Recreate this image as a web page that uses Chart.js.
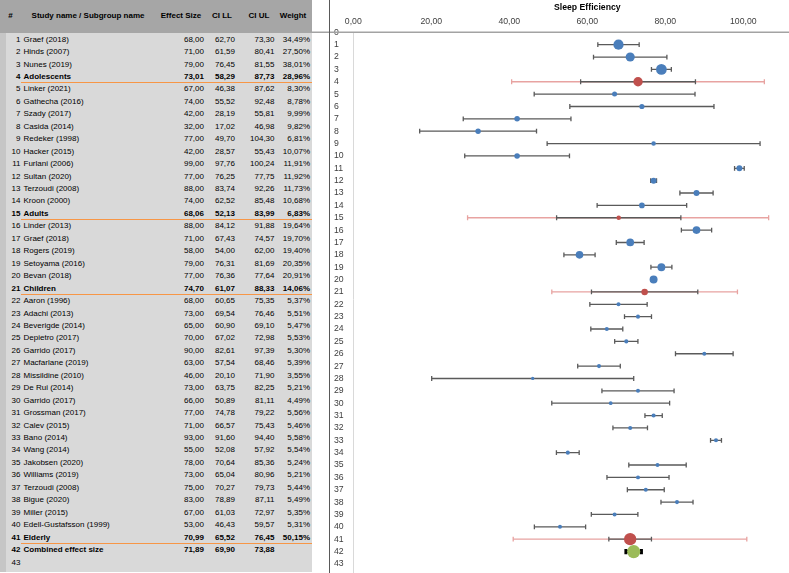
<!DOCTYPE html>
<html>
<head>
<meta charset="utf-8">
<script src="https://cdn.jsdelivr.net/npm/chart.js@4.4.1/dist/chart.umd.min.js"></script>
<style>
  html, body { margin: 0; padding: 0; width: 789px; height: 573px; overflow: hidden; background: #fff; }
  body { font-family: "Liberation Sans", Arial, sans-serif; color: #000; }
  #table { position: absolute; left: 0; top: 0; width: 312px; height: 572px; background: #d9d9d9; }
  #head { position: absolute; left: 0; top: 0; width: 312px; height: 33px; background: #a6a6a6; font-weight: bold; font-size: 8px; }
  #head span { position: absolute; top: 0; line-height: 31px; white-space: nowrap; transform: translateX(-50%); }
  .strip { position: absolute; left: 0; top: 33px; width: 6px; bottom: 0; background: #c6c6c6; }
  .row { position: absolute; left: 0; width: 312px; height: 12.45px; font-size: 8px; line-height: 12.45px; }
  .row span { position: absolute; top: 0; white-space: nowrap; }
  .row .num { left: 0; width: 20.5px; text-align: right; }
  .row .name { left: 23.5px; }
  .row .es { left: 160px; width: 44px; text-align: right; }
  .row .ll { left: 200px; width: 35px; text-align: right; }
  .row .ul { left: 236px; width: 38.5px; text-align: right; }
  .row .w { left: 268px; width: 42px; text-align: right; }
  .row.bold { font-weight: bold; }
  .sep { position: absolute; left: 20.5px; width: 291.5px; height: 1px; background: #f79646; }
  #divider { position: absolute; left: 328.5px; top: 0; width: 1px; height: 573px; background: #595959; z-index: 2; }
  #chartBox { position: absolute; left: 312px; top: 0; width: 518px; height: 573px; }
  #axisTail { position: absolute; left: 353px; top: 566px; width: 1px; height: 7px; background: #d9d9d9; }
</style>
</head>
<body>
<div id="table">
  <div id="head"></div>
  <div class="strip"></div>
  <div id="rows"></div>
</div>
<div id="divider"></div>
<div id="chartBox"><canvas id="forest" width="518" height="573"></canvas></div>
<div id="axisTail"></div>

<script>
const studyNames = ['Graef (2018)', 'Hinds (2007)', 'Nunes (2019)', 'Adolescents', 'Linker (2021)',
    'Gathecha (2016)', 'Szady (2017)', 'Casida (2014)', 'Redeker (1998)', 'Hacker (2015)',
    'Furlani (2006)', 'Sultan (2020)', 'Terzoudi (2008)', 'Kroon (2000)', 'Adults',
    'Linder (2013)', 'Graef (2018)', 'Rogers (2019)', 'Setoyama (2016)', 'Bevan (2018)', 'Children',
    'Aaron (1996)', 'Adachi (2013)', 'Beverigde (2014)', 'Depietro (2017)', 'Garrido (2017)',
    'Macfarlane (2019)', 'Missildine (2010)', 'De Rui (2014)', 'Garrido (2017)', 'Grossman (2017)',
    'Calev (2015)', 'Bano (2014)', 'Wang (2014)', 'Jakobsen (2020)', 'Williams (2019)',
    'Terzoudi (2008)', 'Bigue (2020)', 'Miller (2015)', 'Edell-Gustafsson (1999)', 'Elderly',
    'Combined effect size', ''];

const effectSize = [68, 71, 79, 73.01, 67, 74, 42, 32, 77, 42, 99, 77, 88, 74, 68.06,
    88, 71, 58, 79, 77, 74.70, 68, 73, 65, 70, 90, 63, 46, 73, 66, 77, 71, 93, 55, 78, 73,
    75, 83, 67, 53, 70.99, 71.89, null];

const ciLower = [62.70, 61.59, 76.45, 58.29, 46.38, 55.52, 28.19, 17.02, 49.70, 28.57, 97.76,
    76.25, 83.74, 62.52, 52.13, 84.12, 67.43, 54.00, 76.31, 76.36, 61.07, 60.65, 69.54, 60.90,
    67.02, 82.61, 57.54, 20.10, 63.75, 50.89, 74.78, 66.57, 91.60, 52.08, 70.64, 65.04, 70.27,
    78.89, 61.03, 46.43, 65.52, 69.90, null];

const ciUpper = [73.30, 80.41, 81.55, 87.73, 87.62, 92.48, 55.81, 46.98, 104.30, 55.43, 100.24,
    77.75, 92.26, 85.48, 83.99, 91.88, 74.57, 62.00, 81.69, 77.64, 88.33, 75.35, 76.46, 69.10,
    72.98, 97.39, 68.46, 71.90, 82.25, 81.11, 79.22, 75.43, 94.40, 57.92, 85.36, 80.96, 79.73,
    87.11, 72.97, 59.57, 76.45, 73.88, null];

const weights = [34.49, 27.50, 38.01, 28.96, 8.30, 8.78, 9.99, 9.82, 6.81, 10.07, 11.91, 11.92,
    11.73, 10.68, 6.83, 19.64, 19.70, 19.40, 20.35, 20.91, 14.06, 5.37, 5.51, 5.47, 5.53, 5.30,
    5.39, 3.55, 5.21, 4.49, 5.56, 5.46, 5.58, 5.54, 5.24, 5.21, 5.44, 5.49, 5.35, 5.31, 50.15,
    null, null];

// subgroup summary rows and their wider (prediction) intervals
const subgroupRows = [4, 15, 21, 41];
const predLower = [40.6, 29.3, 50.9, 41.0];
const predUpper = [105.4, 106.5, 98.5, 100.9];
const combinedRow = 42;

const headers = ['#', 'Study name / Subgroup name', 'Effect Size', 'CI LL', 'CI UL', 'Weight'];
const xTicks = [0, 20, 40, 60, 80, 100, 120];
const rowTicks = Array.from({ length: 44 }, (_, i) => i);

const fmt = v => (v === null ? '' : v.toFixed(2).replace('.', ','));

// ---- table ----
const head = document.getElementById('head');
const headerCenters = [10.5, 88, 181, 222, 259, 293];
headers.forEach((h, i) => {
    const s = document.createElement('span');
    s.textContent = h;
    s.style.left = headerCenters[i] + 'px';
    head.appendChild(s);
});

const rowsBox = document.getElementById('rows');
const ROW_TOP = 33.6, ROW_H = 12.45;
studyNames.forEach((name, i) => {
    const r = i + 1;
    const row = document.createElement('div');
    row.className = 'row';
    if (subgroupRows.includes(r) || r === combinedRow) row.classList.add('bold');
    row.style.top = (ROW_TOP + ROW_H * i) + 'px';
    row.innerHTML = `
        <span class="num">${r}</span>
        <span class="name">${name}</span>
        <span class="es">${fmt(effectSize[i])}</span>
        <span class="ll">${fmt(ciLower[i])}</span>
        <span class="ul">${fmt(ciUpper[i])}</span>
        <span class="w">${weights[i] === null ? '' : fmt(weights[i]) + '%'}</span>`;
    rowsBox.appendChild(row);
    if (subgroupRows.includes(r)) {
        const sep = document.createElement('div');
        sep.className = 'sep';
        sep.style.top = (ROW_TOP + ROW_H * r - 1) + 'px';
        rowsBox.appendChild(sep);
    }
});

// ---- chart data ----
const studyPoints = [], subgroupPoints = [], combinedPoints = [];
effectSize.forEach((v, i) => {
    if (v === null) return;
    const r = i + 1;
    const p = { x: v, y: r, w: weights[i] };
    if (r === combinedRow) combinedPoints.push(p);
    else if (subgroupRows.includes(r)) subgroupPoints.push(p);
    else studyPoints.push(p);
});

const drawInterval = (ctx, x, y, row, lo, hi, color, width, cap) => {
    const py = y.getPixelForValue(row);
    const x0 = x.getPixelForValue(lo);
    const x1 = x.getPixelForValue(hi);
    ctx.strokeStyle = color;
    ctx.lineWidth = width;
    ctx.beginPath();
    ctx.moveTo(x0, py);
    ctx.lineTo(x1, py);
    ctx.moveTo(x0, py - cap);
    ctx.lineTo(x0, py + cap);
    ctx.moveTo(x1, py - cap);
    ctx.lineTo(x1, py + cap);
    ctx.stroke();
};

const errorBars = {
    id: 'errorBars',
    beforeDatasetsDraw(chart) {
        const { ctx, scales: { x, y } } = chart;
        ctx.save();
        subgroupRows.forEach((r, i) => {
            drawInterval(ctx, x, y, r, predLower[i], predUpper[i], '#e8a3a1', 1.3, 2.4);
        });
        effectSize.forEach((v, i) => {
            const r = i + 1;
            if (v === null || r === combinedRow) return;
            drawInterval(ctx, x, y, r, ciLower[i], ciUpper[i], '#5a5a5a', 1.3, 2.4);
        });
        const c = combinedRow - 1;
        drawInterval(ctx, x, y, combinedRow, ciLower[c], ciUpper[c], '#000', 3, 2.6);
        ctx.restore();
    },
    afterDraw(chart) {
        // category axis crosses at 0 and runs across the whole panel
        const { ctx, scales: { y } } = chart;
        const py = y.getPixelForValue(0);
        ctx.save();
        ctx.strokeStyle = '#a3a3a3';
        ctx.lineWidth = 1.5;
        ctx.beginPath();
        ctx.moveTo(0, py);
        ctx.lineTo(chart.width, py);
        ctx.stroke();
        ctx.restore();
    }
};

const bubbleRadius = ctx => 0.87 * Math.sqrt(ctx.raw.w);

new Chart(document.getElementById('forest'), {
    type: 'scatter',
    data: {
        datasets: [
            { label: 'Studies', data: studyPoints, backgroundColor: '#4a7ebb', borderWidth: 0,
              pointRadius: bubbleRadius, pointHoverRadius: bubbleRadius },
            { label: 'Subgroups', data: subgroupPoints, backgroundColor: '#c0504d', borderWidth: 0,
              pointRadius: bubbleRadius, pointHoverRadius: bubbleRadius },
            { label: 'Combined', data: combinedPoints, backgroundColor: '#9bbb59', borderWidth: 0,
              pointRadius: 6.6, pointHoverRadius: 6.6 }
        ]
    },
    options: {
        responsive: false,
        animation: false,
        devicePixelRatio: 1,
        layout: { padding: { left: 22, right: 8.7, top: 0, bottom: 0 } },
        plugins: { legend: { display: false }, tooltip: { enabled: false } },
        scales: {
            x: {
                type: 'linear',
                position: 'top',
                min: 0,
                max: 120,
                afterBuildTicks: scale => { scale.ticks = xTicks.map(v => ({ value: v })); },
                afterFit: scale => {
                    scale.height = 32.3;
                    scale.paddingLeft = 0;
                    scale.paddingRight = 0;
                },
                grid: { display: false, drawTicks: false },
                border: { display: false },
                ticks: {
                    padding: 5.4,
                    color: '#404040',
                    font: { family: 'Liberation Sans', size: 8.7 },
                    callback: v => fmt(v)
                },
                title: {
                    display: true,
                    text: 'Sleep Efficiency',
                    color: '#000',
                    padding: { top: 2, bottom: 0 },
                    font: { family: 'Liberation Sans', size: 8.7, weight: 'bold' }
                }
            },
            y: {
                type: 'linear',
                reverse: true,
                min: 0,
                max: 43.2,
                afterBuildTicks: scale => { scale.ticks = rowTicks.map(v => ({ value: v })); },
                afterFit: scale => {
                    scale.width = 19.3;
                    scale.paddingTop = 0;
                    scale.paddingBottom = 0;
                },
                grid: { display: false, drawTicks: false },
                border: { display: true, color: '#d9d9d9', width: 1 },
                ticks: {
                    autoSkip: false,
                    crossAlign: 'far',
                    padding: 0,
                    color: '#404040',
                    font: { family: 'Liberation Sans', size: 8.7 }
                }
            }
        }
    },
    plugins: [errorBars]
});
</script>
</body>
</html>
